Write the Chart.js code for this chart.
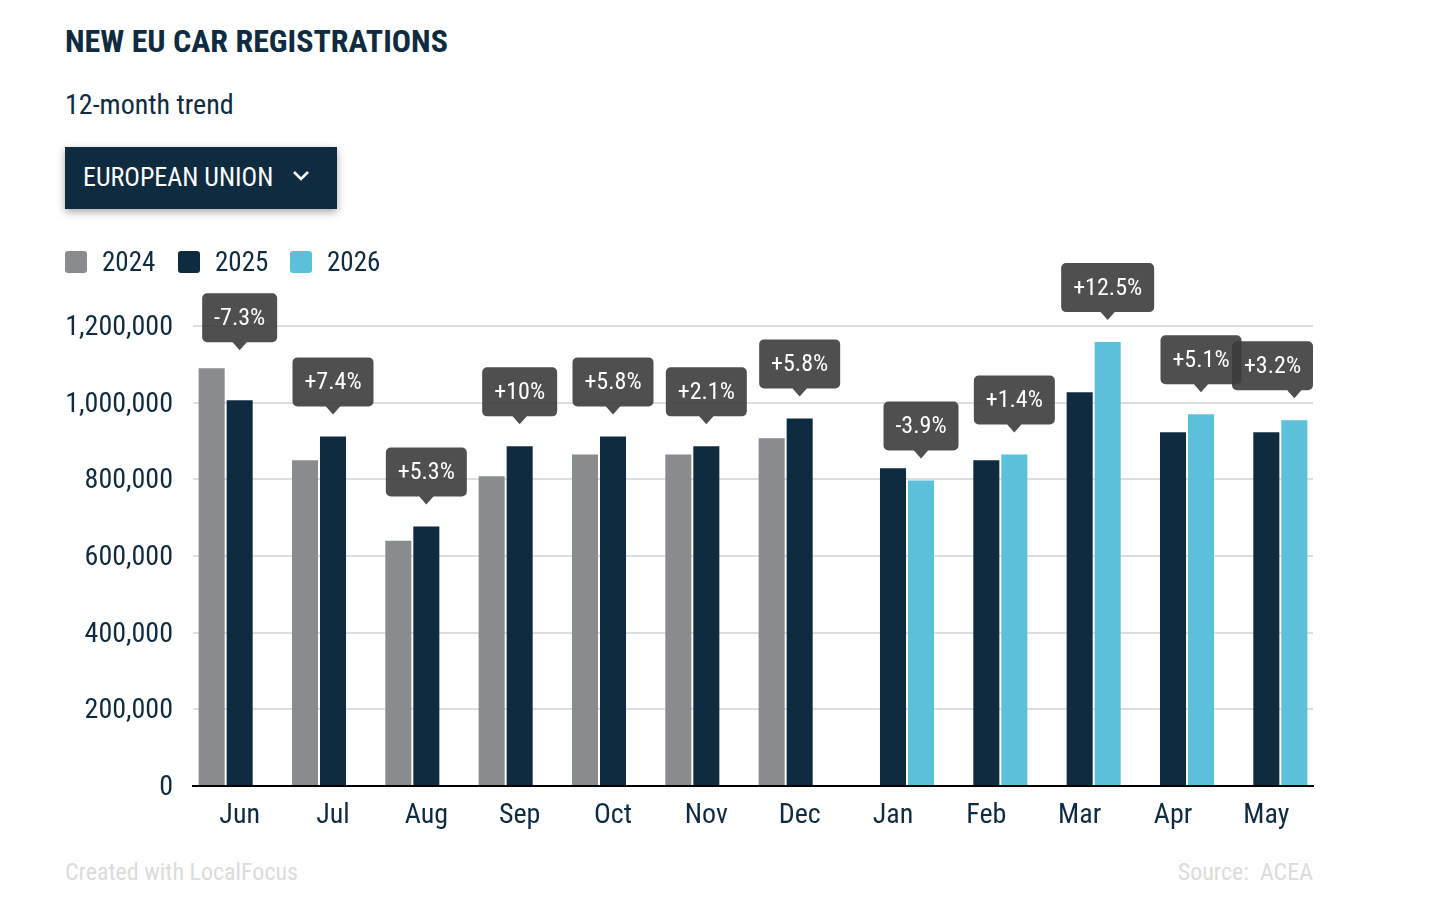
<!DOCTYPE html>
<html>
<head>
<meta charset="utf-8">
<script src="https://cdn.jsdelivr.net/npm/chart.js@4"></script>
<style>
  body { margin: 0; background: #fff; font-family: "Roboto Condensed", Roboto, sans-serif; color: #0f2b40; }
  .wrap { position: relative; width: 1436px; height: 898px; overflow: hidden; }
  .abs { position: absolute; line-height: 1; white-space: nowrap; }
  #title { left: 65px; top: 25px; font-size: 32px; font-weight: 700; }
  #subtitle { left: 65px; top: 91px; font-size: 28px; }
  #picker { left: 65px; top: 147px; width: 272px; height: 62px; background: #0f2b40;
            box-shadow: 0 3px 8px rgba(0,0,0,0.35); }
  #picker span { position: absolute; left: 18px; top: 17px; font-size: 26px; color: #fff; line-height: 1; }
  #picker svg { position: absolute; left: 227px; top: 23px; }
  .legend { top: 249px; font-size: 27px; }
  .sw { position: absolute; top: 2px; width: 22px; height: 22px; border-radius: 3px; }
  #chartBox { position: absolute; left: 0; top: 230px; width: 1436px; height: 606px; }
  .foot { top: 860px; font-size: 24px; color: #dcdcdc; }
</style>
</head>
<body>
<div class="wrap">
  <div id="title" class="abs">NEW EU CAR REGISTRATIONS</div>
  <div id="subtitle" class="abs">12-month trend</div>
  <div id="picker" class="abs">
    <span>EUROPEAN UNION</span>
    <svg width="18" height="12" viewBox="0 0 18 12"><polyline points="2,2 9,9 16,2" fill="none" stroke="#fff" stroke-width="2.6"/></svg>
  </div>
  <div id="chartBox"><canvas id="chart"></canvas></div>
  <div id="legend"></div>
  <div class="abs foot" style="left:65px">Created with LocalFocus</div>
  <div class="abs foot" style="right:123px">Source:&nbsp; ACEA</div>
</div>
<script>
const months = ['Jun', 'Jul', 'Aug', 'Sep', 'Oct', 'Nov', 'Dec', 'Jan', 'Feb', 'Mar', 'Apr', 'May'];
const years = ['2024', '2025', '2026'];
const values2024 = [1090000, 850000, 640000, 808000, 865000, 865000, 907000, null, null, null, null, null];
const values2025 = [1006000, 912000, 677000, 886000, 912000, 886000, 959000, 829000, 850000, 1027000, 923000, 923000];
const values2026 = [null, null, null, null, null, null, null, 797000, 865000, 1158000, 970000, 954000];
const changes = ['-7.3%', '+7.4%', '+5.3%', '+10%', '+5.8%', '+2.1%', '+5.8%', '-3.9%', '+1.4%', '+12.5%', '+5.1%', '+3.2%'];
const yTicks = [0, 200000, 400000, 600000, 800000, 1000000, 1200000];

const colors = ['#888c8d', '#0f2b40', '#5bc0d9'];
const FONT = '"Roboto Condensed", Roboto, sans-serif';
const navy = '#0f2b40';

// legend (html)
const legendEl = document.getElementById('legend');
const legendX = [65, 178, 290];
years.forEach((y, i) => {
  const d = document.createElement('div');
  d.className = 'abs legend';
  d.style.left = legendX[i] + 'px';
  d.innerHTML = '<div class="sw" style="left:0;background:' + colors[i] + '"></div>' +
                '<span style="margin-left:37px">' + y + '</span>';
  legendEl.appendChild(d);
});

// percentage change boxes above each group
const changeLabels = {
  id: 'changeLabels',
  afterDatasetsDraw(chart) {
    const { ctx, chartArea } = chart;
    ctx.save();
    ctx.font = '24px ' + FONT;
    ctx.textAlign = 'center';
    ctx.textBaseline = 'middle';
    changes.forEach((txt, i) => {
      const newIdx = values2026[i] != null ? 2 : 1;
      const newer = chart.getDatasetMeta(newIdx).data[i];
      const older = chart.getDatasetMeta(newIdx - 1).data[i];
      const w = Math.round(ctx.measureText(txt).width + 24);
      const h = 49;
      let bx = newer.x - w / 2;
      bx = Math.min(Math.max(bx, chartArea.left), chartArea.right - w);
      let tip = newer.y - 22;
      if (tip - 8 > older.y) tip = older.y - 18;
      const bb = tip - 8;
      const by = bb - h;
      ctx.beginPath();
      ctx.roundRect(bx, by, w, h, 5);
      ctx.moveTo(newer.x + 8, bb - 1);
      ctx.lineTo(newer.x, tip);
      ctx.lineTo(newer.x - 8, bb - 1);
      ctx.closePath();
      ctx.fillStyle = 'rgba(60,60,60,0.9)';
      ctx.fill();
      ctx.fillStyle = '#fff';
      ctx.fillText(txt, bx + w / 2, by + h / 2 + 1);
    });
    ctx.restore();
  }
};

new Chart(document.getElementById('chart'), {
  type: 'bar',
  data: {
    labels: months,
    datasets: [
      { label: years[0], data: values2024, backgroundColor: colors[0] },
      { label: years[1], data: values2025, backgroundColor: colors[1] },
      { label: years[2], data: values2026, backgroundColor: colors[2] }
    ]
  },
  options: {
    responsive: true,
    maintainAspectRatio: false,
    animation: false,
    categoryPercentage: 0.9,
    barPercentage: 0.93,
    layout: { padding: { left: 65, right: 123, top: 96, bottom: 0 } },
    plugins: {
      legend: { display: false },
      tooltip: { enabled: false }
    },
    scales: {
      x: {
        grid: { display: false },
        border: { display: true, color: '#000', width: 2 },
        ticks: { color: navy, font: { family: FONT, size: 28 }, padding: 5 },
        afterFit: (scale) => { scale.height = 50; }
      },
      y: {
        min: 0,
        max: 1200000,
        afterBuildTicks: (scale) => { scale.ticks = yTicks.map(v => ({ value: v })); },
        grid: { color: '#dedede', lineWidth: 2, drawTicks: false },
        border: { display: false },
        ticks: {
          color: navy,
          font: { family: FONT, size: 28 },
          padding: 20,
          labelOffset: 2,
          callback: (v) => v.toLocaleString('en-US')
        },
        afterFit: (scale) => { scale.width = 128; }
      }
    }
  },
  plugins: [changeLabels]
});
</script>
</body>
</html>
